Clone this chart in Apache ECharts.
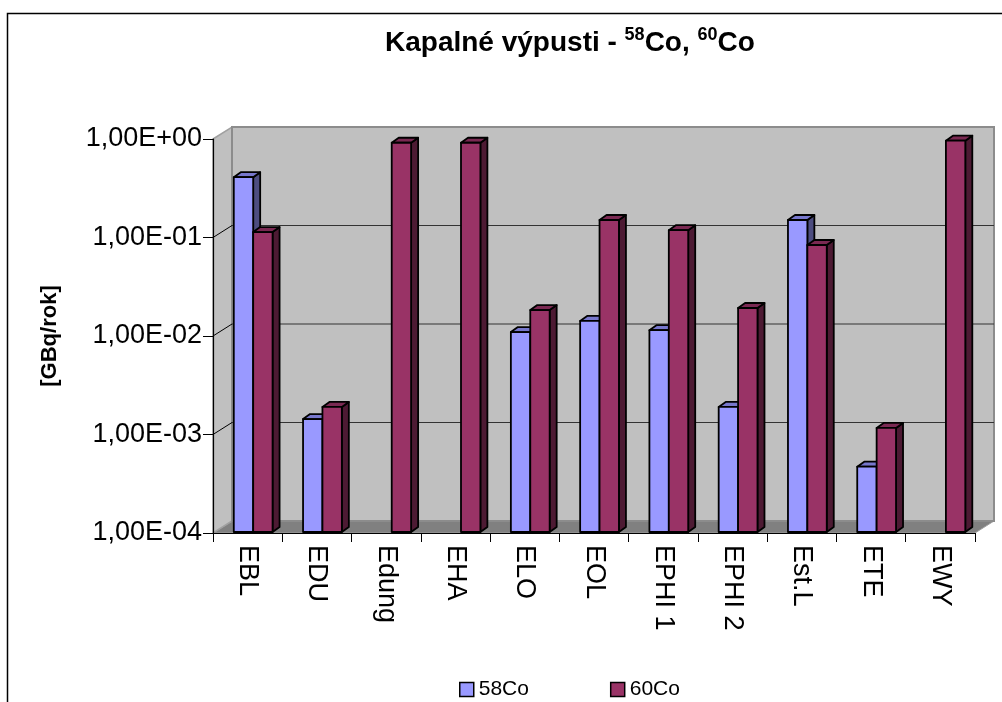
<!DOCTYPE html>
<html>
<head>
<meta charset="utf-8">
<script src="https://cdn.jsdelivr.net/npm/echarts@6/dist/echarts.min.js"></script>
<style>
html,body{margin:0;padding:0;background:#fff;}
#chart{width:1002px;height:702px;}
</style>
</head>
<body>
<div id="chart"></div>
<script>
// ---- data ----
const categories = ['EBL','EDU','Edung','EHA','ELO','EOL','EPHI 1','EPHI 2','Est.L','ETE','EWY'];
const seriesNames = ['58Co','60Co'];
const co58 = [0.40, 0.0014, null, null, 0.0107, 0.0139, 0.0112, 0.00186, 0.147, 0.00046, null];
const co60 = [0.111, 0.00186, 0.895, 0.895, 0.0179, 0.147, 0.116, 0.0188, 0.082, 0.00114, 0.94];
const yTicks = [1e-4, 1e-3, 1e-2, 1e-1, 1];
const titleText = 'Kapalné výpusti - {sup|58}Co, {sup|60}Co';
const yName = '[GBq/rok]';

// ---- style ----
const FONT = '"Liberation Sans", Arial, sans-serif';
const WALL_DX = 19, WALL_DY = -12;
const BAR_DX = 7, BAR_DY = -5;
const colors = [
  {front:'#9999FF', top:'#7777CC', side:'#4D4D80'},
  {front:'#993366', top:'#7A2952', side:'#4D1A33'}
];

function fmt(v){
  const e = Math.round(Math.log10(v));
  const s = e < 0 ? '-' : '+';
  const a = Math.abs(e);
  return '1,00E' + s + (a < 10 ? '0' + a : a);
}

function backdrop(params, api){
  const cs = params.coordSys;
  const x = cs.x, y = cs.y, w = cs.width, h = cs.height;
  const children = [];
  children.push({type:'polygon', shape:{points:[[x,y+h],[x+WALL_DX,y+h+WALL_DY],[x+w+WALL_DX,y+h+WALL_DY],[x+w,y+h]]},
    style:{fill:'#808080', stroke:'#A0A0A0', lineWidth:1}});
  children.push({type:'polygon', shape:{points:[[x,y],[x+WALL_DX,y+WALL_DY],[x+WALL_DX,y+h+WALL_DY],[x,y+h]]},
    style:{fill:'#C0C0C0', stroke:'#A0A0A0', lineWidth:1.5}});
  children.push({type:'rect', shape:{x:x+WALL_DX, y:y+WALL_DY, width:w, height:h},
    style:{fill:'#C0C0C0', stroke:'#8C8C8C', lineWidth:2}});
  yTicks.forEach(function(t){
    const yy = api.coord([0, t])[1];
    if (t === yTicks[0] || t === yTicks[yTicks.length-1]) return;
    children.push({type:'line', shape:{x1:x+WALL_DX, y1:yy+WALL_DY, x2:x+w+WALL_DX, y2:yy+WALL_DY},
      style:{stroke:'#333', lineWidth:1}});
    children.push({type:'line', shape:{x1:x, y1:yy, x2:x+WALL_DX, y2:yy+WALL_DY},
      style:{stroke:'#000', lineWidth:1}});
  });
  return {type:'group', children:children};
}

function barRenderer(idx){
  return function(params, api){
    const v = api.value(1);
    if (v == null || isNaN(v)) return;
    const cat = api.value(0);
    const topPt = api.coord([cat, v]);
    const basePt = api.coord([cat, yTicks[0]]);
    const slot = api.size([1, 1])[0];
    const bw = slot * 0.28;
    const cx = topPt[0] + slot * 0.08;
    const x0 = idx === 0 ? cx - bw : cx;
    const yt = topPt[1] - 1, yb = basePt[1] - 1;
    const c = colors[idx];
    const st = {stroke:'#000', lineWidth:1.8, lineJoin:'round'};
    return {type:'group', children:[
      {type:'polygon', shape:{points:[[x0+bw,yt],[x0+bw+BAR_DX,yt+BAR_DY],[x0+bw+BAR_DX,yb+BAR_DY],[x0+bw,yb]]},
        style:Object.assign({fill:c.side}, st)},
      {type:'polygon', shape:{points:[[x0,yt],[x0+BAR_DX,yt+BAR_DY],[x0+bw+BAR_DX,yt+BAR_DY],[x0+bw,yt]]},
        style:Object.assign({fill:c.top}, st)},
      {type:'rect', shape:{x:x0, y:yt, width:bw, height:yb-yt},
        style:Object.assign({fill:c.front}, st)}
    ]};
  };
}

function toData(arr){
  const out = [];
  arr.forEach(function(v,i){ if (v != null) out.push([i, v]); });
  return out;
}

const chart = echarts.init(document.getElementById('chart'), null, {renderer:'canvas'});
chart.setOption({
  animation:false,
  backgroundColor:'#fff',
  textStyle:{fontFamily:FONT},
  title:{
    text:titleText, left:380, top:21,
    textStyle:{fontFamily:FONT, fontSize:28, fontWeight:'bold', color:'#000', lineHeight:34,
      rich:{sup:{fontFamily:FONT, fontSize:18, fontWeight:'bold', color:'#000', verticalAlign:'top', lineHeight:34}}}
  },
  legend:{
    data:seriesNames, left:454, top:674, itemWidth:14, itemHeight:14, itemGap:81, icon:'rect',
    itemStyle:{borderColor:'#000', borderWidth:1.5},
    textStyle:{fontFamily:FONT, fontSize:21, color:'#000'}
  },
  grid:{left:213, top:139, width:762, height:394},
  xAxis:{
    type:'category', data:categories, z:10,
    axisLine:{lineStyle:{color:'#000', width:1.2}},
    axisTick:{show:true, interval:0, length:9, lineStyle:{color:'#000'}},
    axisLabel:{interval:0, rotate:-90, margin:12, fontFamily:FONT, fontSize:27, color:'#000'},
    splitLine:{show:false}
  },
  yAxis:{
    type:'log', logBase:10, min:1e-4, max:1, z:10,
    name:yName, nameLocation:'middle', nameGap:152, nameRotate:90,
    nameTextStyle:{fontFamily:FONT, fontSize:22, fontWeight:'bold', color:'#000'},
    axisLine:{show:true, lineStyle:{color:'#000', width:1.2}},
    axisTick:{show:true, length:10, lineStyle:{color:'#000'}},
    axisLabel:{margin:11, fontFamily:FONT, fontSize:27, color:'#000', formatter:fmt},
    splitLine:{show:false}
  },
  graphic:[{type:'rect', shape:{x:7.5, y:13.5, width:1100, height:800}, style:{fill:'none', stroke:'#000', lineWidth:1.5}, z:-10}],
  series:[
    {type:'custom', name:'backdrop', data:[[0, 1]], encode:{x:0, y:1}, renderItem:backdrop, z:1, silent:true, legendHoverLink:false},
    {type:'custom', name:seriesNames[0], data:toData(co58), encode:{x:0, y:1}, renderItem:barRenderer(0), z:3, itemStyle:{color:colors[0].front}},
    {type:'custom', name:seriesNames[1], data:toData(co60), encode:{x:0, y:1}, renderItem:barRenderer(1), z:4, itemStyle:{color:colors[1].front}}
  ]
});
</script>
</body>
</html>
